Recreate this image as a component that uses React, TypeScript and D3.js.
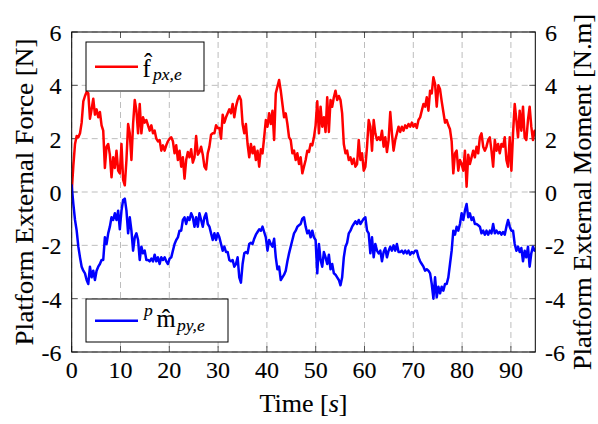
import React from 'react';
import * as d3 from 'd3';

// Sampling interval of both signals (s)
const sampleInterval = 0.34;

// Platform external force f̂_{px,e} [N]
const force = [
  0.0, 1.0, 1.8, 2.1, 2.05, 2.2, 2.6, 3.4, 3.6, 3.75, 3.7, 2.75, 3.1, 3.5, 2.9, 3.1, 2.8, 3.0, 2.5, 2.3,
  0.9, 1.7, 1.8, 1.4, 0.55, 1.3, 0.9, 1.55, 0.8, 0.7, 1.8, 0.45, 0.25, 1.2, 2.55, 2.2, 1.2, 2.55, 3.45, 3.05,
  2.2, 3.3, 2.2, 2.8, 2.6, 2.7, 2.5,
  2.3, 2.5, 2.2, 2.3, 2.0, 1.9, 1.95, 1.55, 1.75, 1.55, 1.75, 1.9, 2.0, 2.05, 1.9, 1.45, 1.75, 1.2, 1.55, 0.95,
  1.3, 0.5, 1.2, 1.5, 1.3, 1.6, 1.1, 1.3, 2.1, 1.4, 1.5, 1.7, 1.4, 0.95, 0.85, 1.45, 1.7, 2.15, 2.2, 2.2,
  2.5, 2.4, 2.4, 2.0, 2.9, 2.6, 2.8,
  2.95, 3.1, 2.95, 3.3, 2.8, 3.2, 3.45, 3.6, 3.45, 2.55, 2.2, 2.55, 1.8, 1.3, 1.8, 1.45, 1.7, 1.2, 1.55, 0.95,
  1.6, 1.45, 2.05, 2.7, 2.45, 2.95, 2.55, 3.05, 1.95, 3.7, 3.95, 4.2, 3.8, 3.3, 2.8, 2.95, 2.55, 2.05, 1.95, 1.45,
  1.55, 1.2, 1.45, 1.05, 1.3, 0.7, 0.95,
  1.2, 1.55, 1.5, 1.8, 1.75, 2.05, 2.5, 3.4, 2.2, 3.2, 2.45, 2.8, 2.25, 3.55, 2.25, 3.45, 3.2, 3.55, 3.8, 3.45,
  3.6, 3.45, 2.95, 1.8, 1.45, 1.55, 1.2, 1.3, 1.05, 1.25, 0.95, 1.05, 1.95, 1.2, 1.45, 0.8, 0.95, 1.7, 2.7, 2.45,
  1.55, 2.7, 2.2, 1.95, 2.05, 1.95, 2.3,
  1.7, 2.05, 1.5, 1.95, 3.0, 2.2, 1.55, 1.95, 2.2, 2.45, 2.25, 2.45, 2.3, 2.5, 2.4, 2.55, 2.45, 2.6, 2.45, 2.55,
  2.4, 2.7, 2.8, 3.05, 3.3, 3.2, 3.55, 3.05, 3.8, 3.7, 4.3, 4.05, 3.2, 4.0, 3.85, 3.4, 3.0, 2.6, 2.7, 2.5,
  2.35, 1.9, 0.7, 1.45, 1.55, 0.8, 1.2,
  1.05, 0.8, 1.55, 0.2, 1.4, 1.05, 1.3, 1.55, 1.3, 1.7, 1.45, 2.05, 2.2, 1.7, 1.55, 1.7, 1.95, 2.05, 1.55, 0.95,
  1.95, 1.55, 1.8, 1.45, 1.8, 1.7, 2.05, 1.2, 0.95, 2.05, 0.8, 2.2, 3.3, 2.7, 2.05, 3.05, 2.3, 3.2, 2.05, 1.95,
  2.7, 3.2, 2.45, 1.95, 2.3,
];

// Platform external moment p m̂_{py,e} [N.m]
const moment = [
  0.25, -0.45, -1.05, -1.45, -2.05, -2.45, -2.8, -2.95, -3.05, -3.3, -3.45, -2.8, -3.2, -2.95, -3.3, -2.95, -2.8, -2.7, -2.55, -2.55,
  -1.7, -1.95, -1.55, -1.3, -0.95, -1.05, -0.8, -1.05, -0.7, -1.4, -0.7, -0.3, -0.25, -0.7, -1.55, -0.95, -1.45, -2.2, -1.7, -1.55,
  -1.8, -2.55, -2.05, -2.3, -2.2, -2.55, -2.55,
  -2.6, -2.5, -2.6, -2.35, -2.6, -2.45, -2.7, -2.45, -2.55, -2.45, -2.6, -2.7, -2.5, -2.45, -2.2, -1.95, -1.8, -1.7, -1.45, -1.45,
  -1.05, -0.95, -1.2, -0.95, -1.05, -0.8, -0.95, -1.3, -0.95, -1.3, -0.8, -1.05, -1.3, -0.95, -0.8, -1.2, -1.3, -1.55, -1.8, -1.55,
  -1.8, -1.55, -1.7, -1.95, -2.2, -2.05, -2.25,
  -2.25, -2.55, -2.6, -2.55, -2.8, -2.7, -2.45, -3.2, -3.4, -2.7, -2.3, -2.25, -2.3, -1.95, -1.9, -1.95, -1.75, -1.6, -1.5, -1.4,
  -1.45, -1.3, -1.5, -1.7, -2.2, -1.8, -1.95, -2.05, -1.75, -2.45, -2.9, -2.8, -3.3, -3.2, -3.1, -2.95, -2.6, -2.3, -2.05, -1.8,
  -1.55, -1.45, -1.3, -1.25, -1.2, -1.0, -0.95,
  -1.3, -1.55, -1.45, -1.7, -1.45, -1.7, -1.8, -3.05, -1.95, -2.55, -2.8, -2.25, -2.45, -2.7, -2.35, -2.9, -2.7, -3.05, -3.1, -3.2,
  -3.3, -3.5, -3.2, -2.45, -2.05, -1.9, -1.55, -1.45, -1.3, -1.2, -1.1, -1.2, -1.05, -1.2, -1.1, -1.0, -0.95, -1.45, -1.55, -2.3,
  -1.7, -2.45, -1.95, -2.2, -2.3, -2.2, -2.6,
  -2.25, -2.1, -2.45, -2.2, -2.05, -2.2, -2.0, -2.2, -1.95, -2.25, -2.25, -2.2, -2.3, -2.2, -2.3, -2.2, -2.35, -2.25, -2.3, -2.2,
  -2.2, -2.45, -2.6, -2.7, -2.8, -2.95, -2.9, -2.95, -3.05, -3.45, -4.0, -3.2, -3.95, -3.55, -3.8, -3.55, -3.7, -3.45, -3.45, -3.2,
  -2.7, -2.2, -1.45, -1.6, -1.3, -1.45, -1.2,
  -0.8, -1.05, -0.7, -0.45, -0.95, -0.8, -1.05, -0.95, -1.2, -1.2, -1.25, -1.3, -1.55, -1.45, -1.6, -1.45, -1.6, -1.45, -1.55, -1.2,
  -1.55, -1.45, -1.55, -1.5, -1.6, -1.5, -1.6, -1.3, -1.05, -1.3, -1.45, -1.45, -1.95, -2.2, -2.05, -2.25, -2.1, -2.6, -2.2, -2.45,
  -2.05, -2.8, -2.3, -2.05, -2.2,
];

const xDomain = [0, 95];
const yDomain = [-6, 6];
const xTicks = [0, 10, 20, 30, 40, 50, 60, 70, 80, 90];
const yTicks = [-6, -4, -2, 0, 2, 4, 6];

const FONT = "'Liberation Serif', 'DejaVu Serif', serif";

export default function App() {
  const W = 598;
  const H = 424;
  const left = 71.7, right = 535.3, top = 32, bottom = 352;
  const x = d3.scaleLinear().domain(xDomain).range([left, right]);
  const y = d3.scaleLinear().domain(yDomain).range([bottom, top]);
  const line = d3
    .line<number>()
    .x((_, i) => x(i * sampleInterval))
    .y((d) => y(d));

  const gridColor = '#bdbdbd';
  const tickColor = '#555';
  const tickLen = 6;
  const fontStyle = { fontFamily: FONT };
  const textWeight = { stroke: '#000', strokeWidth: 0.12 };

  return (
    <svg
      width={W}
      height={H}
      viewBox={`0 0 ${W} ${H}`}
      style={{ position: 'absolute', left: 0, top: 0, background: '#fff', fontFamily: FONT }}
    >
      <rect x={0} y={0} width={W} height={H} fill="#fff" />
      <defs>
        <clipPath id="plotClip">
          <rect x={left} y={top} width={right - left} height={bottom - top} />
        </clipPath>
      </defs>

      {/* grid */}
      <g stroke={gridColor} strokeWidth={1} strokeDasharray="6,4">
        {xTicks.map((t) => (
          <line key={'gx' + t} x1={x(t)} x2={x(t)} y1={top} y2={bottom} />
        ))}
        {yTicks.map((t) => (
          <line key={'gy' + t} x1={left} x2={right} y1={y(t)} y2={y(t)} />
        ))}
      </g>

      {/* ticks on all sides */}
      <g stroke={tickColor} strokeWidth={1}>
        {xTicks.map((t) => (
          <g key={'tx' + t}>
            <line x1={x(t)} x2={x(t)} y1={bottom} y2={bottom - tickLen} />
            <line x1={x(t)} x2={x(t)} y1={top} y2={top + tickLen} />
          </g>
        ))}
        {yTicks.map((t) => (
          <g key={'ty' + t}>
            <line x1={left} x2={left + tickLen} y1={y(t)} y2={y(t)} />
            <line x1={right} x2={right - tickLen} y1={y(t)} y2={y(t)} />
          </g>
        ))}
      </g>

      {/* data */}
      <g clipPath="url(#plotClip)" fill="none" strokeLinejoin="round" strokeLinecap="round">
        <path d={line(force) || ''} stroke="#ff0000" strokeWidth={2.5} />
        <path d={line(moment) || ''} stroke="#0000ff" strokeWidth={2.5} />
      </g>

      {/* frame */}
      <rect x={left} y={top} width={right - left} height={bottom - top} fill="none" stroke="#000" strokeWidth={1} />

      {/* tick labels */}
      <g fontSize={24} fill="#000" style={{ ...fontStyle, ...textWeight }}>
        {xTicks.map((t) => (
          <text key={'lx' + t} x={x(t)} y={377.5} textAnchor="middle" style={fontStyle}>
            {t}
          </text>
        ))}
        {yTicks.map((t) => (
          <text key={'ly' + t} x={61.5} y={y(t) + 9} textAnchor="end" style={fontStyle}>
            {t < 0 ? '-' + Math.abs(t) : t}
          </text>
        ))}
        {yTicks.map((t) => (
          <text key={'ry' + t} x={545} y={y(t) + 9} textAnchor="start" style={fontStyle}>
            {t < 0 ? '-' + Math.abs(t) : t}
          </text>
        ))}
      </g>

      <g fill="#000" style={textWeight}>
        {/* axis labels */}
        <text x={(left + right) / 2} y={412} fontSize={24.5} textAnchor="middle" textLength={88} lengthAdjust="spacingAndGlyphs" style={fontStyle}>
          Time [<tspan fontStyle="italic">s</tspan>]
        </text>
        <text
          transform={`translate(33, ${(top + bottom) / 2}) rotate(-90)`}
          fontSize={24.5}
          textAnchor="middle"
          textLength={307}
          lengthAdjust="spacingAndGlyphs"
          style={fontStyle}
        >
          Platform External Force [N]
        </text>
        <text
          transform={`translate(591, ${(top + bottom) / 2}) rotate(-90)`}
          fontSize={24.5}
          textAnchor="middle"
          textLength={356}
          lengthAdjust="spacingAndGlyphs"
          style={fontStyle}
        >
          Platform External Moment [N.m]
        </text>
      </g>

      {/* legend: force */}
      <rect x={86} y={42} width={118} height={49} fill="#fff" stroke="#000" strokeWidth={1} />
      <line x1={95} x2={138} y1={66.7} y2={66.7} stroke="#ff0000" strokeWidth={2.5} />
      <g fill="#000" style={textWeight}>
        <text x={142.5} y={76.5} fontSize={24.5} style={fontStyle}>
          {'f\u0302'}
        </text>
        <text x={153} y={80} fontSize={17.5} fontStyle="italic" style={fontStyle}>
          px,e
        </text>
      </g>

      {/* legend: moment */}
      <rect x={86} y={299} width={142} height={43} fill="#fff" stroke="#000" strokeWidth={1} />
      <line x1={95} x2={138} y1={320.7} y2={320.7} stroke="#0000ff" strokeWidth={2.5} />
      <g fill="#000" style={textWeight}>
        <text x={144} y={316} fontSize={17.5} fontStyle="italic" style={fontStyle}>
          p
        </text>
        <text x={156.5} y={327} fontSize={24.5} style={fontStyle}>
          {'m\u0302'}
        </text>
        <text x={177} y={330.5} fontSize={17.5} fontStyle="italic" style={fontStyle}>
          py,e
        </text>
      </g>
    </svg>
  );
}
